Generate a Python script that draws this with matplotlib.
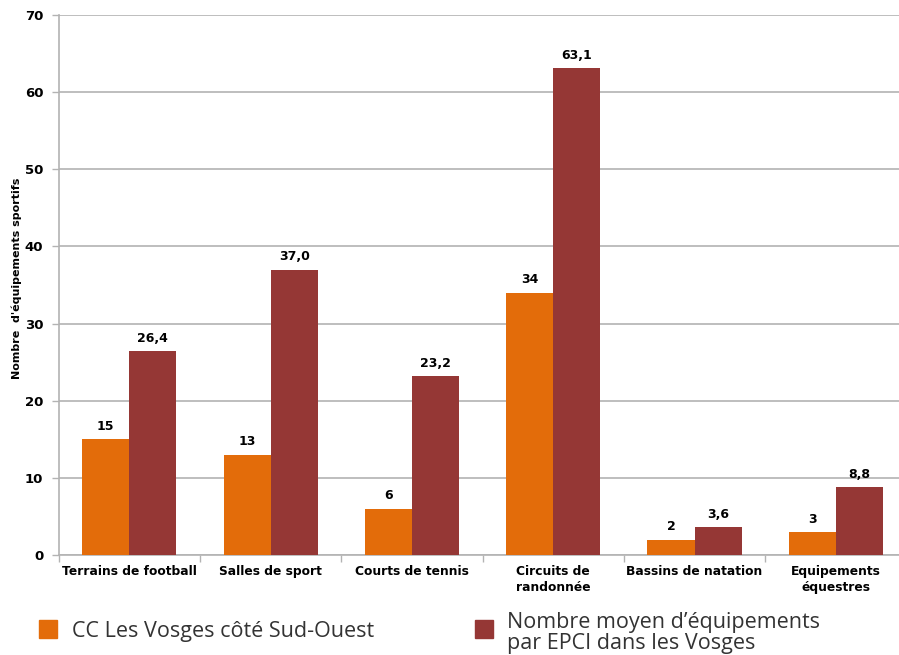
import matplotlib
matplotlib.use("Agg")
import matplotlib.pyplot as plt
import numpy as np

categories = ["Terrains de football", "Salles de sport", "Courts de tennis",
              "Circuits de\nrandonnée", "Bassins de natation", "Equipements\néquestres"]
cc_values = [15, 13, 6, 34, 2, 3]
epci_values = [26.4, 37.0, 23.2, 63.1, 3.6, 8.8]
series_names = ["CC Les Vosges côté Sud-Ouest", "Nombre moyen d\u2019équipements\npar EPCI dans les Vosges"]
yticks = [0, 10, 20, 30, 40, 50, 60, 70]

orange = "#E36C0A"
red = "#953735"
grid = "#B3B3B3"

fig = plt.figure(figsize=(8.99, 6.55), dpi=100)
ax = fig.add_axes([58.7 / 899, 1 - 555 / 655, (906.5 - 58.7) / 899, 540 / 655])

x = np.arange(len(categories))
w = 1 / 3
b1 = ax.bar(x - w / 2, cc_values, width=w, color=orange, zorder=3)
b2 = ax.bar(x + w / 2, epci_values, width=w, color=red, zorder=3)

for rect, v in zip(b1, cc_values):
    ax.annotate(f"{v:.0f}", (rect.get_x() + rect.get_width() / 2, v),
                xytext=(0, 4.5), textcoords="offset points", ha="center", va="bottom",
                fontsize=9, fontweight="bold", color="black")
for rect, v in zip(b2, epci_values):
    ax.annotate(f"{v:.1f}".replace(".", ","), (rect.get_x() + rect.get_width() / 2, v),
                xytext=(0, 4.5), textcoords="offset points", ha="center", va="bottom",
                fontsize=9, fontweight="bold", color="black")

ax.set_xlim(-0.5, len(categories) - 0.5)
ax.set_ylim(0, 70)
ax.set_yticks(yticks)
ax.set_yticklabels([str(t) for t in yticks], fontsize=9.5, fontweight="bold")
ax.yaxis.grid(True, color=grid, linewidth=1.2, zorder=0)
ax.set_axisbelow(True)

ax.set_xticks(x)
ax.set_xticklabels(categories, fontsize=8.8, fontweight="bold", linespacing=1.3, va="top")
ax.tick_params(axis="x", which="major", length=0, pad=7)
ax.set_xticks(np.arange(-0.5, len(categories) + 0.5, 1), minor=True)
ax.tick_params(axis="x", which="minor", length=5, color=grid, width=1)
ax.tick_params(axis="y", length=5, color=grid, width=1, pad=6)

for s in ["top", "right"]:
    ax.spines[s].set_visible(False)
for s in ["left", "bottom"]:
    ax.spines[s].set_color(grid)
    ax.spines[s].set_linewidth(1.2)

fig.text(17 / 899, 1 - 278 / 655, "Nombre  d'équipements sportifs", rotation=90,
         ha="center", va="center", fontsize=8, fontweight="bold")

# legend
fig.patches.append(plt.Rectangle((39 / 899, 1 - 638 / 655), 18 / 899, 18 / 655,
                                 transform=fig.transFigure, color=orange))
fig.text(72 / 899, 1 - 631 / 655, series_names[0], fontsize=15.5, family="Open Sans",
         color="#333333", ha="left", va="center")
fig.patches.append(plt.Rectangle((475 / 899, 1 - 638 / 655), 18 / 899, 18 / 655,
                                 transform=fig.transFigure, color=red))
fig.text(507 / 899, 1 - 633 / 655, series_names[1], fontsize=15.5, family="Open Sans",
         color="#333333", ha="left", va="center", linespacing=0.95)

fig.savefig("out.png", dpi=100)
